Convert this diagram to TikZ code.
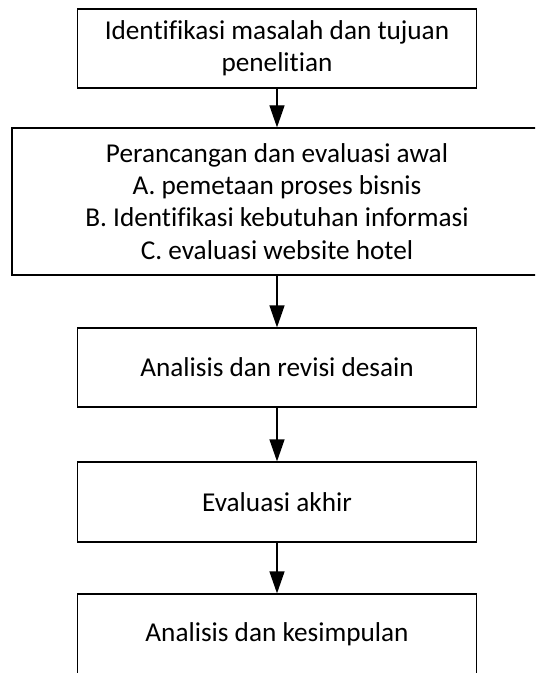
\documentclass[tikz,border=0pt]{standalone}
\usepackage{fontspec}
\setmainfont{Carlito}[Ligatures=NoCommon]
\usetikzlibrary{arrows.meta}
\begin{document}
\begin{tikzpicture}[>={Triangle[length=4.4mm,width=3mm]},
        kotak/.style={draw,line width=0.7pt,align=center,inner sep=0pt,minimum width=7.98cm,font=\fontsize{15.5}{18.3}\selectfont},
        panah/.style={->,line width=0.7pt}]
            \useasboundingbox (0,0) rectangle (10.7,-13.46);
            \clip (0,0) rectangle (10.7,-13.46);
            \node[kotak,minimum height=1.58cm] (identifikasi) at (5.54,-0.97) {Identifikasi masalah dan tujuan\\penelitian};
            \node[kotak,minimum height=2.94cm,minimum width=10.6cm] (perancangan) at (5.54,-4.03) {Perancangan dan evaluasi awal\\A. pemetaan proses bisnis\\B. Identifikasi kebutuhan informasi\\C. evaluasi website hotel};
            \node[kotak,minimum height=1.58cm] (analisis) at (5.54,-7.35) {Analisis dan revisi desain};
            \node[kotak,minimum height=1.6cm] (evaluasi) at (5.54,-10.04) {Evaluasi akhir};
            \node[kotak,minimum height=1.62cm] (kesimpulan) at (5.54,-12.69) {Analisis dan kesimpulan};
            \draw[panah] (identifikasi) -- (perancangan);
            \draw[panah] (perancangan) -- (analisis);
            \draw[panah] (analisis) -- (evaluasi);
            \draw[panah] (evaluasi) -- (kesimpulan);
        \end{tikzpicture}
\end{document}
